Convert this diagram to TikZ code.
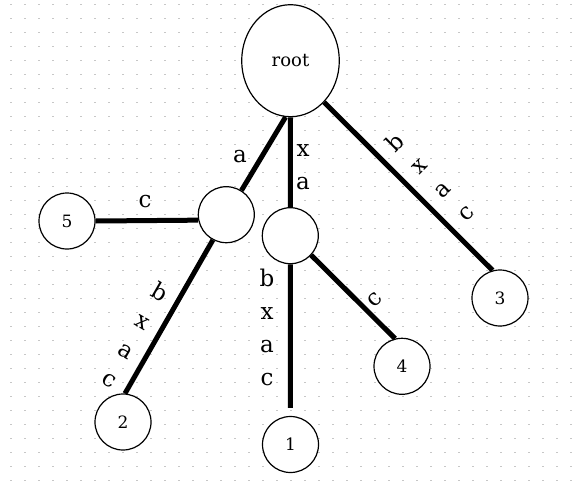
\documentclass[tikz,border=0pt]{standalone}
\usepackage{fontspec}
\setmainfont{DejaVu Serif}
\usetikzlibrary{shapes.geometric,positioning}

\tikzset{
  state/.style={circle, draw, line width=0.6pt, fill=white, minimum size=28pt, inner sep=0pt, font=\fontsize{8.5}{10}\selectfont},
  edge/.style={line width=2.5pt},
  lbl/.style={inner sep=0pt, align=center, font=\fontsize{11.5}{16.5}\selectfont}
}

\begin{document}
\begin{tikzpicture}[x=0.5pt, y=-0.5pt]
    \useasboundingbox (0,0) rectangle (578,493);
    % dotted background grid
    \foreach \i in {0,...,41}
      \foreach \j in {0,...,35}
        \fill[black!22] (11+14*\i-0.6,4.7+14*\j-0.6) rectangle ++(1.2,1.2);

    % nodes
    \node[ellipse, draw, line width=0.6pt, fill=white, minimum width=48.8pt, minimum height=56pt, inner sep=0pt, font=\fontsize{9}{11}\selectfont] (root) at (290.5,60.7) {root};
    \node[state] (A) at (226.3,214.7) {};
    \node[state] (B) at (290.3,235.7) {};
    \node[state] (n5) at (67,221) {5};
    \node[state] (n2) at (123,422) {2};
    \node[state] (n1) at (290.5,444.5) {1};
    \node[state] (n4) at (402,366.3) {4};
    \node[state] (n3) at (500,298) {3};

    % edges
    \draw[edge] (root.-95) -- (A.58);
    \draw[edge] (root.south) -- (B.north);
    \draw[edge] (root.-51) -- (n3.105);
    \draw[edge] (A.191) -- (n5.east);
    \draw[edge] (A.-118) -- (n2.86);
    \draw[edge, shorten >=4pt] (B.south) -- (n1.north);
    \draw[edge] (B.-43) -- (n4.104);

    % edge labels
    \node[lbl] (lA) at (240,157) {a};
    \node[lbl] (lB) at (303,167) {x\\a};
    \node[lbl, rotate=45] (l3) at (430,177) {b\\x\\a\\c};
    \node[lbl] (l5) at (145,202) {c};
    \node[lbl, rotate=-30] (l2) at (135,335) {b\\x\\a\\c};
    \node[lbl] (l1) at (267,327) {b\\x\\a\\c};
    \node[lbl, rotate=45] (l4) at (375,300) {c};
\end{tikzpicture}
\end{document}
